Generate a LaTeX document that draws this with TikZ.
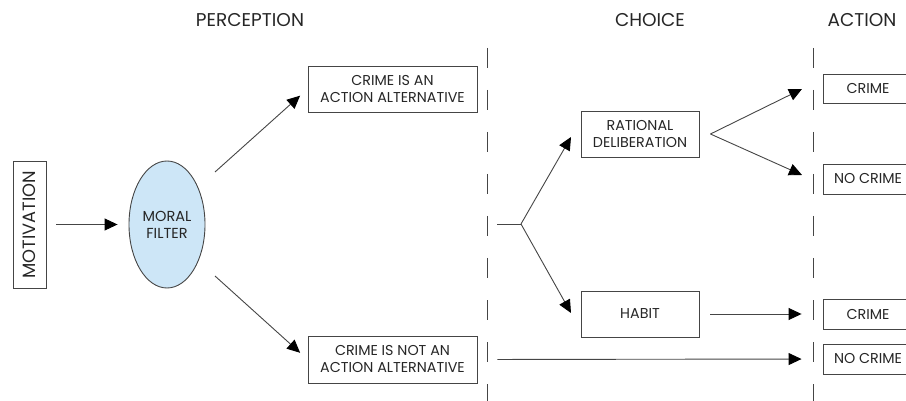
\documentclass[tikz,border=0pt]{standalone}
\usepackage{fontspec}
\setmainfont{Poppins}
\usetikzlibrary{arrows.meta,shapes.geometric,calc}
\definecolor{ink}{HTML}{262626}
\definecolor{lineink}{HTML}{454545}
\definecolor{filterblue}{HTML}{CDE6F7}
\tikzset{
  boxnode/.style={draw=lineink,line width=0.9pt,rectangle,align=center,inner sep=0pt,
    font=\fontsize{14.3}{17}\selectfont,text=ink},
  heading/.style={font=\fontsize{18.5}{21}\selectfont,text=ink,inner sep=0pt},
  arr/.style={draw=lineink,line width=0.9pt,-{Triangle[length=13pt,width=12pt,fill=black,color=black]}},
  plain/.style={draw=lineink,line width=0.9pt},
  divider/.style={draw=lineink,line width=0.9pt,dash pattern=on 20pt off 22pt}
}
\begin{document}
\begin{tikzpicture}[x=1pt,y=-1pt]
\useasboundingbox (0,0) rectangle (906,401);
\clip (0,0) rectangle (906,401);
% headings
\node[heading] (hperc) at (250,20) {PERCEPTION};
\node[heading] (hchoice) at (650,20) {CHOICE};
\node[heading] (haction) at (862,20) {ACTION};
% dividers
\coordinate (d1t) at (487,48); \coordinate (d1b) at (487,410);
\coordinate (d2t) at (813,48); \coordinate (d2b) at (813,410);
\draw[divider] (d1t) -- (d1b);
\draw[divider] (d2t) -- (d2b);
% nodes
\node[boxnode,minimum width=33pt,minimum height=127pt] (mot) at (29.5,224.5) {};
\node[rotate=90,font=\fontsize{17.8}{20}\selectfont,text=ink,inner sep=0pt] (motlbl) at (mot.center) {MOTIVATION};
\node[ellipse,draw=lineink,line width=0.9pt,fill=filterblue,minimum width=76pt,minimum height=127pt,
  inner sep=0pt,align=center,font=\fontsize{14.5}{17}\selectfont,text=ink] (mf) at (167,224.5) {MORAL\\FILTER};
\node[boxnode,minimum width=169pt,minimum height=46pt] (alt) at (392.5,89) {CRIME IS AN\\ACTION ALTERNATIVE};
\node[boxnode,minimum width=169pt,minimum height=47pt] (notalt) at (392.5,359.5) {CRIME IS NOT AN\\ACTION ALTERNATIVE};
\node[boxnode,minimum width=118pt,minimum height=46pt] (rat) at (640,134) {RATIONAL\\DELIBERATION};
\node[boxnode,minimum width=118pt,minimum height=46pt] (habit) at (640,314) {HABIT};
\node[boxnode,minimum width=90pt,minimum height=29pt] (c1) at (868,88.5) {CRIME};
\node[boxnode,minimum width=90pt,minimum height=30pt] (nc1) at (868,179) {NO CRIME};
\node[boxnode,minimum width=90pt,minimum height=30pt] (c2) at (868,314) {CRIME};
\node[boxnode,minimum width=90pt,minimum height=30pt] (nc2) at (868,359) {NO CRIME};
% connectors
\draw[arr,shorten <=10pt,shorten >=11pt] (mot.east) -- (mf.west);
\coordinate (s1) at (215,172);
\coordinate (s2) at (215,276);
\draw[arr,shorten >=10pt] (s1) -- (alt.west);
\draw[arr,shorten >=10pt] (s2) -- (notalt.west);
\coordinate (f0) at (497,224);
\coordinate (f1) at (521,224);
\coordinate (tr) at (571,137);
\coordinate (th) at (571,313);
\draw[plain] (f0) -- (f1);
\draw[arr] (f1) -- (tr);
\draw[arr] (f1) -- (th);
\coordinate (rs) at ($(rat.east)+(11,0)$);
\coordinate (rc) at (802,89);
\coordinate (rn) at (802,175);
\draw[arr] (rs) -- (rc);
\draw[arr] (rs) -- (rn);
\draw[arr,shorten <=11pt,shorten >=21pt] (habit.east) -- (c2.west);
\draw[arr,shorten <=20pt,shorten >=21pt] (notalt.east) -- (nc2.west);
\end{tikzpicture}
\end{document}
